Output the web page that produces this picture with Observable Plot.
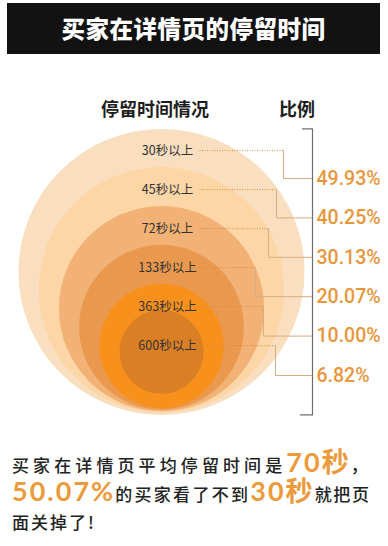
<!DOCTYPE html>
<html><head><meta charset="utf-8">
<script src="https://cdn.jsdelivr.net/npm/d3@7"></script>
<script src="https://cdn.jsdelivr.net/npm/@observablehq/plot@0.6"></script>
<style>
html,body{margin:0;padding:0;background:#fff;}
#page{position:relative;width:388px;height:546px;overflow:hidden;font-family:"Noto Sans CJK SC","Noto Sans",sans-serif;}
#title{position:absolute;left:7px;top:3px;width:373px;height:51px;background:#121212;color:#fff;font-weight:900;font-size:23.5px;line-height:51px;text-align:center;letter-spacing:0.5px;}
.sub{position:absolute;top:96px;font-weight:700;font-size:18px;line-height:24px;color:#1e1e1e;transform:translateX(-50%);white-space:nowrap;}
#chart{position:absolute;left:0;top:120px;}
.cap{position:absolute;left:12px;white-space:nowrap;color:#222;font-size:17px;font-weight:500;line-height:24px;}
.big{color:#eb9a3c;font-family:Lato,"Noto Sans CJK SC",sans-serif;font-weight:700;font-size:27px;letter-spacing:2px;}
</style></head>
<body><div id="page">
<div id="title">买家在详情页的停留时间</div>
<div class="sub" style="left:155px">停留时间情况</div>
<div class="sub" style="left:297px">比例</div>
<div id="chart"></div>
<div class="cap" style="top:450px"><span style="letter-spacing:4.1px">买家在详情页平均停留时间是</span><span class="big">70秒</span><span>，</span></div>
<div class="cap" style="top:479px"><span class="big">50.07%</span><span style="letter-spacing:2.3px">的买家看了不到</span><span class="big">30秒</span><span style="letter-spacing:1.7px">就把页</span></div>
<div class="cap" style="top:510px"><span style="letter-spacing:2px">面关掉了!</span></div>
</div>
<script>
// ---- data ----
const categories = ["30秒以上", "45秒以上", "72秒以上", "133秒以上", "363秒以上", "600秒以上"];
const shares = [49.93, 40.25, 30.13, 20.07, 10.00, 6.82];
const shareText = ["49.93%", "40.25%", "30.13%", "20.07%", "10.00%", "6.82%"];

// ---- styling / layout ----
const ringColors = ["#fbe4c8", "#fdd6a8", "#f2b275", "#efa055", "#f7911c", "#e6882a"];
const ringTexture = ["dots", null, null, "hatch", null, "hatchDark"];
const elbowX = [283, 276, 268, 255, 263, 275];
const W = 388, TOP = 120, H = 305;
const CX = 161, BRACKET_X = 312, LEADER_START = 199, PCT_X = 316;

const rows = categories.map((c, i) => ({category: c, share: shares[i], text: shareText[i], i}));

// nested circles: radius steps down per duration band, centre drops as the share shrinks
const radius = Plot.scale({x: {type: "point", domain: categories, range: [143, 42], padding: 0}});
const centerY = Plot.scale({y: {type: "linear", domain: [0, 50], range: [364, 271.25]}});
const rad = d => radius.apply(d.category);
const cy = d => centerY.apply(d.share);
const labelY = Plot.scale({y: {type: "point", domain: categories, range: [150.1, 345.2], padding: 0}});
const pctY = Plot.scale({y: {type: "point", domain: categories, range: [178, 375], padding: 0}});

const outer = rows[0];
const bTop = cy(outer) - rad(outer);
const bBottom = cy(outer) + rad(outer);
const bracket = [[BRACKET_X - 10, bTop], [BRACKET_X, bTop], [BRACKET_X, bBottom], [BRACKET_X - 12, bBottom]];

const elbows = rows.flatMap(d => [
  {k: d.category, x: elbowX[d.i], y: labelY.apply(d.category)},
  {k: d.category, x: elbowX[d.i], y: pctY.apply(d.category)},
  {k: d.category, x: BRACKET_X, y: pctY.apply(d.category)}
]);

const circleMarks = rows.flatMap(d => {
  const base = Plot.dot([d], {x: () => CX, y: cy, r: rad, fill: "category", stroke: null});
  const tex = ringTexture[d.i];
  return tex ? [base, Plot.dot([d], {x: () => CX, y: cy, r: rad, fill: `url(#${tex})`, stroke: null})] : [base];
});

const chart = Plot.plot({
  width: W, height: H, margin: 0,
  style: {background: "transparent", overflow: "visible"},
  x: {type: "linear", domain: [0, W], range: [0, W], axis: null},
  y: {type: "linear", domain: [TOP, TOP + H], range: [0, H], axis: null},
  r: {type: "identity"},
  color: {domain: categories, range: ringColors},
  marks: [
    ...circleMarks,
    Plot.link(rows, {x1: LEADER_START, x2: d => elbowX[d.i], y1: d => labelY.apply(d.category), y2: d => labelY.apply(d.category),
      stroke: "#d98c3e", strokeWidth: 1, strokeDasharray: "1,1.5"}),
    Plot.line(elbows, {x: "x", y: "y", z: "k", stroke: "#d8ad82", strokeWidth: 1}),
    Plot.line(bracket, {x: d => d[0], y: d => d[1], stroke: "#6e6e6e", strokeWidth: 1.2}),
    Plot.text(rows, {x: 167, y: d => labelY.apply(d.category), text: "category", fontSize: 12.5,
      fill: "#333", fontFamily: "Noto Sans CJK SC"}),
    Plot.text(rows, {x: PCT_X, y: d => pctY.apply(d.category), text: "text", textAnchor: "start",
      fontSize: 19.5, fontWeight: 500, fill: "#e8963c", fontFamily: "Roboto"})
  ]
});

// texture patterns for the halftone / hatched rings
const NS = "http://www.w3.org/2000/svg";
const defs = document.createElementNS(NS, "defs");
function pattern(id, size, rotate, draw) {
  const p = document.createElementNS(NS, "pattern");
  p.setAttribute("id", id);
  p.setAttribute("patternUnits", "userSpaceOnUse");
  p.setAttribute("width", size);
  p.setAttribute("height", size);
  if (rotate) p.setAttribute("patternTransform", `rotate(${rotate})`);
  draw(p);
  defs.appendChild(p);
}
function el(parent, tag, attrs) {
  const e = document.createElementNS(NS, tag);
  for (const k in attrs) e.setAttribute(k, attrs[k]);
  parent.appendChild(e);
}
pattern("dots", 2, 0, p => el(p, "rect", {x: 0, y: 0, width: 1, height: 1, fill: "rgba(236,180,120,0.45)"}));
pattern("hatch", 2.2, 45, p => el(p, "rect", {x: 0, y: 0, width: 0.9, height: 2.2, fill: "rgba(200,110,40,0.35)"}));
pattern("hatchDark", 2.2, 45, p => el(p, "rect", {x: 0, y: 0, width: 0.9, height: 2.2, fill: "rgba(150,75,10,0.35)"}));
chart.insertBefore(defs, chart.firstChild);
document.getElementById("chart").appendChild(chart);
</script>
</body></html>
